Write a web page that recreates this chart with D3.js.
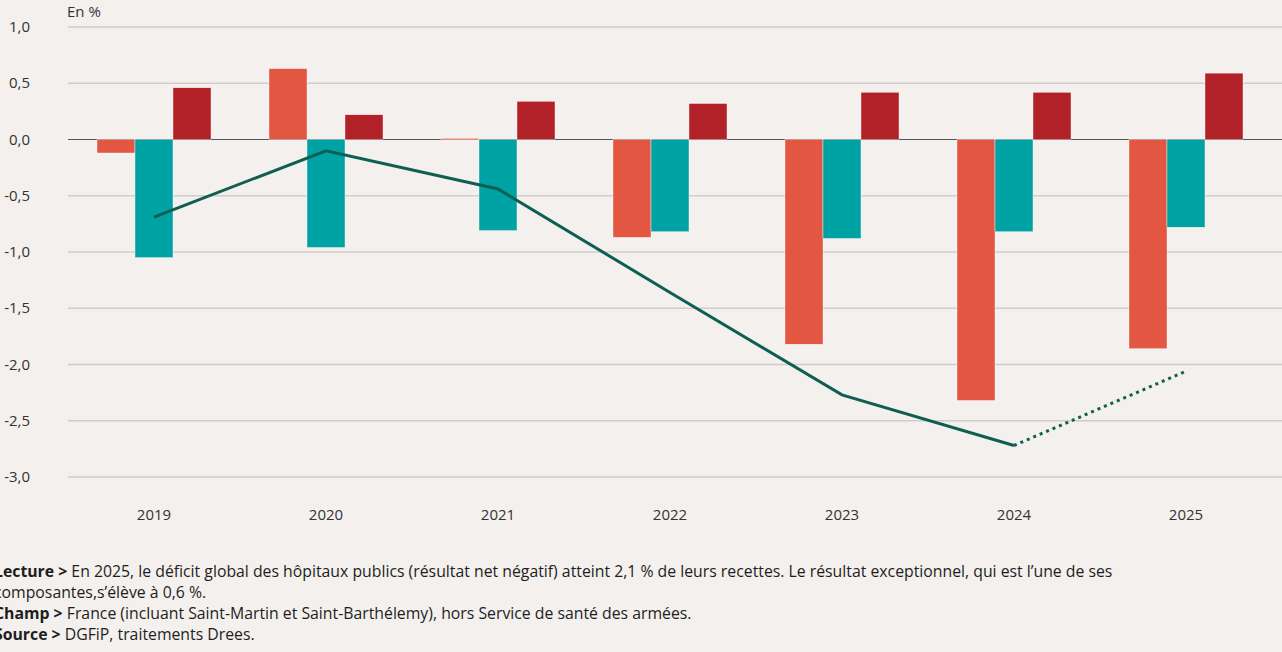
<!DOCTYPE html>
<html><head><meta charset="utf-8">
<script src="https://cdn.jsdelivr.net/npm/d3@7"></script>
<style>
body{margin:0;background:#f3f0ed;font-family:"Open Sans",Lato,sans-serif;}
.note{position:absolute;left:-6px;font-size:15.8px;color:#1e1e1e;line-height:21px;white-space:nowrap;}
</style></head><body>
<div id="chart"></div>
<div class="note" style="top:561px"><b>Lecture &gt;</b> En 2025, le déficit global des hôpitaux publics (résultat net négatif) atteint 2,1 % de leurs recettes. Le résultat exceptionnel, qui est l’une de ses<br>composantes,s’élève à 0,6 %.<br><b>Champ &gt;</b> France (incluant Saint-Martin et Saint-Barthélemy), hors Service de santé des armées.<br><b>Source &gt;</b> DGFiP, traitements Drees.</div>
<script>
var years = ["2019","2020","2021","2022","2023","2024","2025"],
    seriesA = [-0.12, 0.63, 0.01, -0.87, -1.82, -2.32, -1.86],
    seriesB = [-1.05, -0.96, -0.81, -0.82, -0.88, -0.82, -0.78],
    seriesC = [0.46, 0.22, 0.34, 0.32, 0.42, 0.42, 0.59],
    lineVals = [-0.69, -0.10, -0.44, -1.36, -2.27, -2.72, -2.06],
    yTicks = [1, 0.5, 0, -0.5, -1, -1.5, -2, -2.5, -3],
    colors = ["#e35641", "#00a3a3", "#b22028"];

var width = 1282, height = 560;
var svg = d3.select("#chart").append("svg").attr("width", width).attr("height", height);

var x = d3.scaleBand().domain(years).range([68, 1272]);
var y = d3.scaleLinear().domain([-3, 1]).range([477, 27]);
var bw = 38;

svg.selectAll(".grid").data(yTicks).enter().append("line")
  .attr("x1", 68).attr("x2", 1282)
  .attr("y1", function(d){ return y(d); }).attr("y2", function(d){ return y(d); })
  .style("stroke", function(d){ return d === 0 ? "#555" : "#cfcccb"; })
  .style("stroke-width", function(d){ return d === 0 ? 1.2 : 1.5; });

svg.selectAll(".ylab").data(yTicks).enter().append("text")
  .attr("x", 30).attr("y", function(d){ return y(d) + 5; })
  .attr("text-anchor", "end").style("font-size", "15px").style("fill", "#333")
  .text(function(d){ return d3.format(".1f")(d).replace(".", ",").replace("−","-"); });

svg.append("text").attr("x", 67).attr("y", 17).style("font-size", "15px").style("fill", "#333").text("En %");

[seriesA, seriesB, seriesC].forEach(function(s, k){
  svg.selectAll(".bar" + k).data(s).enter().append("rect")
    .attr("x", function(d, i){ return x(years[i]) + x.bandwidth()/2 - bw*1.5 + k*bw; })
    .attr("width", bw)
    .attr("y", function(d){ return y(Math.max(0, d)); })
    .attr("height", function(d){ return Math.max(1.5, Math.abs(y(d) - y(0))); })
    .style("fill", colors[k]).style("stroke", "#fff").style("stroke-width", 0.4);
});

svg.selectAll(".xlab").data(years).enter().append("text")
  .attr("x", function(d){ return x(d) + x.bandwidth()/2; }).attr("y", 520)
  .attr("text-anchor", "middle").style("font-size", "15px").style("fill", "#333").text(function(d){ return d; });

var pts = lineVals.map(function(v, i){ return [x(years[i]) + x.bandwidth()/2, y(v)]; });
var line = d3.line();
svg.append("path").attr("d", line(pts.slice(0, 6)))
  .style("fill", "none").style("stroke", "#0f5e52").style("stroke-width", 3);
svg.append("path").attr("d", line(pts.slice(5)))
  .style("fill", "none").style("stroke", "#0f5e52").style("stroke-width", 3).style("stroke-dasharray", "3,4");
</script></body></html>
